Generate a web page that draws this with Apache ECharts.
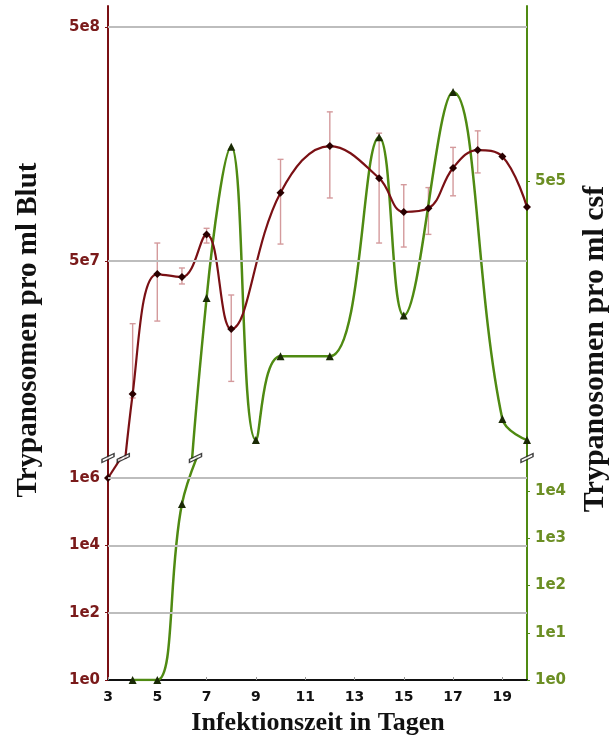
<!DOCTYPE html>
<html>
<head>
<meta charset="utf-8">
<script src="https://cdn.jsdelivr.net/npm/echarts@6/dist/echarts.min.js"></script>
<style>
  html, body { margin:0; padding:0; background:#fff; }
  #chart { width:615px; height:746px; }
</style>
</head>
<body>
<div id="chart"></div>
<script>
// Tage + Werte (Blut, log)
var bloodDays   = [3, 4, 5, 6, 7, 8, 10, 12, 14, 15, 16, 17, 18, 19, 20];
var bloodValues = [1e6, 1.35e7, 4.4e7, 4.27e7, 6.5e7, 2.56e7, 9.8e7, 1.55e8, 1.13e8, 8.1e7, 8.4e7, 1.25e8, 1.49e8, 1.40e8, 8.5e7];

// Fehlerbalken Blut
var errDays = [4, 5, 6, 7, 8, 10, 12, 14, 15, 16, 17, 18];
var errLow  = [1.3e7, 2.77e7, 3.99e7, 5.97e7, 1.53e7, 5.91e7, 9.3e7, 5.97e7, 5.74e7, 6.5e7, 9.5e7, 1.19e8];
var errHigh = [2.7e7, 5.97e7, 4.67e7, 6.9e7, 3.58e7, 1.36e8, 2.17e8, 1.76e8, 1.06e8, 1.03e8, 1.53e8, 1.80e8];

// Tage + Werte (csf, log)
var csfDays   = [4, 5, 6, 7, 8, 9, 10, 12, 14, 15, 17, 19, 20];
var csfValues = [1, 1, 5.3e3, 1.58e5, 7.0e5, 3.9e4, 8.9e4, 8.9e4, 7.7e5, 1.33e5, 1.2e6, 4.8e4, 3.9e4];

// Achsenbeschriftungen
var xTicks          = [3, 5, 7, 9, 11, 13, 15, 17, 19];
var bloodTopTicks   = [5e7, 5e8];
var bloodBotTicks   = [1, 1e2, 1e4, 1e6];
var csfTopTicks     = [5e5];
var csfBotTicks     = [1, 10, 100, 1e3, 1e4];
var breakX          = [3, 3.62, 6.55, 20];

var RED = '#7a1014';
var GREEN = '#4f8a12';
var RED_LBL = '#7a1a1a';
var GREEN_LBL = '#6b8e23';

function pairs(xs, ys){
    var out = [];
    for(var i=0;i<xs.length;i++){ out.push([xs[i], ys[i]]); }
    return out;
}
function expFmt(v){
    var e = Math.floor(Math.log(v)/Math.LN10 + 1e-9);
    var m = Math.round(v/Math.pow(10,e));
    return m + 'e' + e;
}
function gridLines(vals){
    var d = [];
    for(var i=0;i<vals.length;i++){ d.push({yAxis: vals[i]}); }
    return d;
}

var bloodData = pairs(bloodDays, bloodValues);
var csfData   = pairs(csfDays, csfValues);
// unterer Teil: nur die Punkte bis zum Achsenbruch
var bloodLow  = bloodData.slice(0, 2);
var csfLow    = csfData.slice(0, 4);
var errData = [];
for(var i=0;i<errDays.length;i++){ errData.push([errDays[i], errLow[i], errHigh[i]]); }

function yAxisCfg(grid, pos, min, max, ticks, col, lblCol){
    return {
        type:'log', logBase:10, gridIndex:grid, position:pos, min:min, max:max,
        axisLine:{show:true, onZero:false, lineStyle:{color:col, width:2}},
        axisTick:{show:true, length:3, customValues:ticks, lineStyle:{color:col}},
        axisLabel:{customValues:ticks, formatter:expFmt, color:lblCol, fontWeight:'bold',
                   fontSize:15, fontFamily:'DejaVu Sans', margin:8},
        splitLine:{show:false}
    };
}

var chart = echarts.init(document.getElementById('chart'));
var option = {
    animation:false,
    backgroundColor:'#fff',
    grid:[
        {left:108, right:88, top:6, height:452},
        {left:108, right:88, top:458, height:222}
    ],
    xAxis:[
        {type:'value', gridIndex:0, min:3, max:20, show:false},
        {type:'value', gridIndex:1, min:3, max:20,
         axisLine:{lineStyle:{color:'#111', width:2}},
         axisTick:{show:true, inside:true, length:3, customValues:xTicks, lineStyle:{color:'#999'}},
         axisLabel:{customValues:xTicks, color:'#111', fontWeight:'bold', fontSize:14,
                    fontFamily:'DejaVu Sans', margin:10},
         splitLine:{show:false}}
    ],
    yAxis:[
        yAxisCfg(0, 'left', 7.2e6, 6.15e8, bloodTopTicks, RED, RED_LBL),
        yAxisCfg(0, 'right', 3.27e4, 2.8e6, csfTopTicks, GREEN, GREEN_LBL),
        yAxisCfg(1, 'left', 1, 3.92e6, bloodBotTicks, RED, RED_LBL),
        yAxisCfg(1, 'right', 1, 5e4, csfBotTicks, GREEN, GREEN_LBL)
    ],
    graphic:[
        {type:'text', x:29, y:330, rotation:Math.PI/2,
         style:{text:'Trypanosomen pro ml Blut', font:'bold 29px "Liberation Serif"', fill:'#111',
                align:'center', verticalAlign:'middle'}},
        {type:'text', x:595, y:349, rotation:Math.PI/2,
         style:{text:'Trypanosomen pro ml csf', font:'bold 30px "Liberation Serif"', fill:'#111',
                align:'center', verticalAlign:'middle'}},
        {type:'text', x:318, y:723,
         style:{text:'Infektionszeit in Tagen', font:'bold 26px "Liberation Serif"', fill:'#111',
                align:'center', verticalAlign:'middle'}}
    ],
    series:[
        // Gitterlinien
        {type:'line', xAxisIndex:0, yAxisIndex:0, data:[], z:1, silent:true,
         markLine:{silent:true, symbol:'none', label:{show:false},
                   lineStyle:{color:'#bdbdbd', width:2, type:'solid'}, data:gridLines(bloodTopTicks)}},
        {type:'line', xAxisIndex:1, yAxisIndex:2, data:[], z:1, silent:true,
         markLine:{silent:true, symbol:'none', label:{show:false},
                   lineStyle:{color:'#bdbdbd', width:2, type:'solid'}, data:gridLines([1e2, 1e4, 1e6])}},
        // Fehlerbalken
        {type:'custom', xAxisIndex:0, yAxisIndex:0, z:2, data:errData,
         renderItem:function(params, api){
             var lo = api.coord([api.value(0), api.value(1)]);
             var hi = api.coord([api.value(0), api.value(2)]);
             var st = {stroke:'#d49a9c', lineWidth:1.4};
             return {type:'group', children:[
                 {type:'line', shape:{x1:lo[0], y1:lo[1], x2:hi[0], y2:hi[1]}, style:st},
                 {type:'line', shape:{x1:lo[0]-3, y1:lo[1], x2:lo[0]+3, y2:lo[1]}, style:st},
                 {type:'line', shape:{x1:hi[0]-3, y1:hi[1], x2:hi[0]+3, y2:hi[1]}, style:st}
             ]};
         }},
        // csf oben / unten
        {type:'line', xAxisIndex:0, yAxisIndex:1, data:csfData, smooth:0.4, z:3,
         symbol:'triangle', symbolSize:8, itemStyle:{color:'#1a2a05'},
         lineStyle:{color:GREEN, width:2.5}},
        {type:'line', xAxisIndex:1, yAxisIndex:3, data:csfLow, smooth:0.4, z:3,
         symbol:'triangle', symbolSize:8, itemStyle:{color:'#1a2a05'},
         lineStyle:{color:GREEN, width:2.5}},
        // Blut oben / unten
        {type:'line', xAxisIndex:0, yAxisIndex:0, data:bloodData, smooth:0.4, z:4,
         symbol:'diamond', symbolSize:8, itemStyle:{color:'#2a0000'},
         lineStyle:{color:RED, width:2.2}},
        {type:'line', xAxisIndex:1, yAxisIndex:2, data:bloodLow, smooth:0.4, z:4,
         symbol:'diamond', symbolSize:8, itemStyle:{color:'#2a0000'},
         lineStyle:{color:RED, width:2.2}},
        // Achsenbruch-Zeichen
        {type:'scatter', xAxisIndex:1, yAxisIndex:2, z:6, silent:true, clip:false,
         data:breakX.map(function(x){ return [x, 3.92e6]; }),
         symbol:'path://M0,9 L14,0 L14,5 L0,14 Z', symbolSize:[12,9],
         itemStyle:{color:'#fff', borderColor:'#111', borderWidth:1.3}}
    ]
};
chart.setOption(option);
</script>
</body>
</html>
